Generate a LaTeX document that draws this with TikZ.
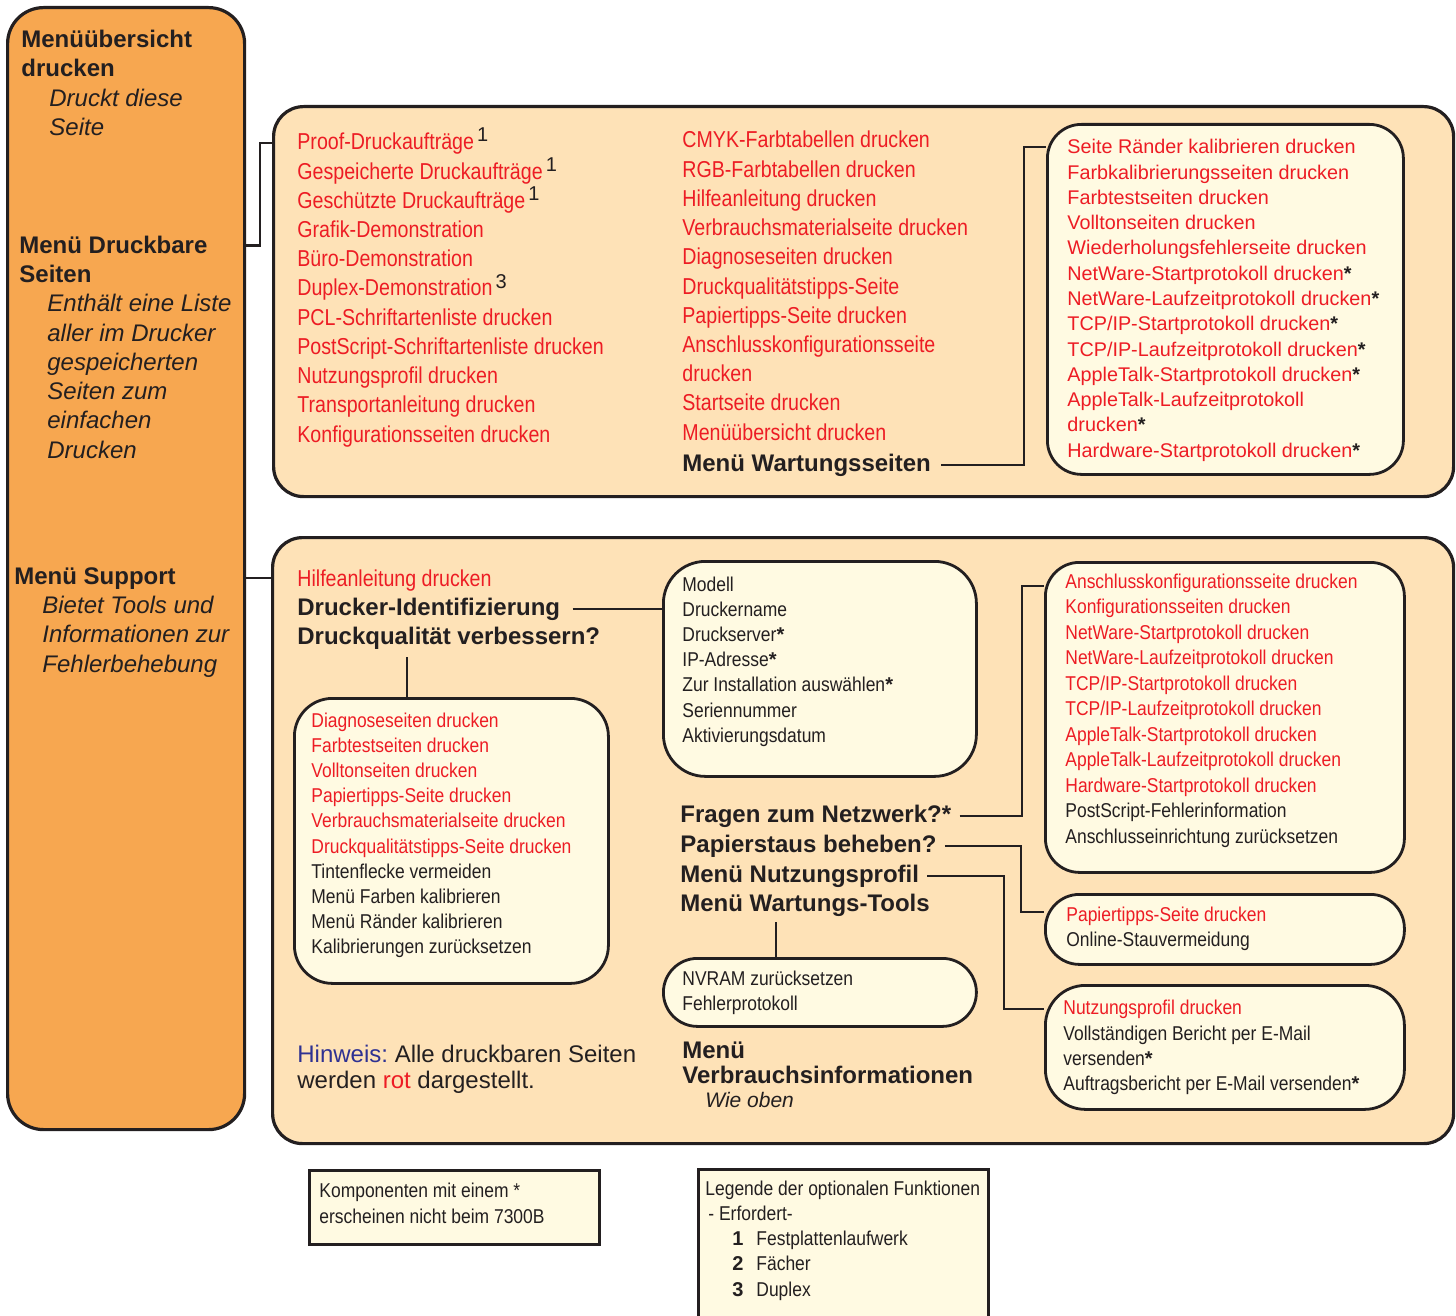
\documentclass[tikz,border=0pt]{standalone}
\usepackage{fontspec}
\setmainfont{Liberation Sans}
\newfontfamily\narrowfont[FakeStretch=0.853]{Liberation Sans}
\newfontfamily\boxfont[FakeStretch=0.873]{Liberation Sans}
\definecolor{Ink}{HTML}{231F20}
\definecolor{Druck}{HTML}{ED1C24}
\definecolor{Hint}{HTML}{2E3192}
\definecolor{Menu}{HTML}{F7A750}
\definecolor{Panel}{HTML}{FEE2B7}
\definecolor{Sub}{HTML}{FFFAE2}
\frenchspacing
\newcommand\fnmark[1]{\hspace{1.5pt}\raisebox{4pt}{\normalfont\fontsize{10}{12}\selectfont\color{Ink}#1}}
\newcommand\astk{{\normalfont\bfseries\color{Ink}*}}
\tikzset{
  boxbase/.style={draw=Ink,anchor=north west,inner sep=0pt},
  menubox/.style={boxbase,line width=1.6pt,fill=Menu,rounded corners=18pt},
  panel/.style={boxbase,line width=1.6pt,fill=Panel,rounded corners=15pt},
  subbox/.style={boxbase,line width=1.4pt,fill=Sub,rounded corners=17pt},
  keybox/.style={boxbase,line width=1.4pt,fill=Sub},
  link/.style={draw=Ink,line width=1.2pt},
  txt/.style={anchor=base west,inner sep=0pt,text=Ink},
  headtxt/.style={txt,font=\fontsize{12}{14}\selectfont\bfseries},
  notetxt/.style={txt,font=\fontsize{12}{14}\selectfont\itshape},
  redtxt/.style={txt,text=Druck,font=\narrowfont\fontsize{11.5}{14}\selectfont},
  boxtxt/.style={txt,font=\boxfont\fontsize{10}{12}\selectfont},
  widetxt/.style={txt,text=Druck,font=\fontsize{9.9}{12}\selectfont},
}
\begin{document}
\begin{tikzpicture}[x=0.5pt,y=-0.5pt]
  \useasboundingbox (0,0) rectangle (1456,1316);
  % frames
  \node[menubox,minimum width=118.5pt,minimum height=561pt] (menu) at (6,6) {};
  \node[panel,minimum width=590pt,minimum height=195pt] (prt) at (272,105) {};
  \node[panel,minimum width=590.5pt,minimum height=303pt] (sup) at (271,536) {};
  \node[subbox,minimum width=178pt,minimum height=175pt] (maint) at (1046,123) {};
  \node[subbox,rounded corners=21pt,minimum width=156.5pt,minimum height=107.5pt] (ident) at (662,560) {};
  \node[subbox,rounded corners=19pt,minimum width=157pt,minimum height=142.5pt] (qual) at (293,697) {};
  \node[subbox,minimum width=179.5pt,minimum height=155pt] (netz) at (1044,561) {};
  \node[subbox,minimum width=179.5pt,minimum height=35pt] (stau) at (1044,893) {};
  \node[subbox,minimum width=156.5pt,minimum height=34pt] (tools) at (662,957) {};
  \node[subbox,rounded corners=20pt,minimum width=179.5pt,minimum height=62pt] (nutz) at (1044,984) {};
  \node[keybox,minimum width=145pt,minimum height=37pt] (fnbox) at (308,1169) {};
  \node[keybox,minimum width=145pt,minimum height=80pt] (legbox) at (697,1168) {};

  % left menu column
  \node[headtxt] (mue1) at (21,48) {Menüübersicht};
  \node[headtxt] (mue2) at (21,77) {drucken};
  \node[notetxt] (mue3) at (49,107) {Druckt diese};
  \node[notetxt] (mue4) at (49,136) {Seite};
  \node[headtxt] (dbs) at (19,254) {Menü Druckbare};
  \node[headtxt] (dbs2) at (19,283) {Seiten};
  \foreach \t [count=\i] in {Enthält eine Liste,aller im Drucker,gespeicherten,Seiten zum,einfachen,Drucken}
    \node[notetxt] (dbsn\i) at (47,{312+(\i-1)*29.2}) {\t};
  \node[headtxt] (msp) at (14,584) {Menü Support};
  \foreach \t [count=\i] in {Bietet Tools und,Informationen zur,Fehlerbehebung}
    \node[notetxt] (mspn\i) at (42,{613+(\i-1)*29.5}) {\t};

  % printable pages
  \foreach \t [count=\i] in {Proof-Druckaufträge\fnmark{1},Gespeicherte Druckaufträge\fnmark{1},
      Geschützte Druckaufträge\fnmark{1},Grafik-Demonstration,Büro-Demonstration,
      Duplex-Demonstration\fnmark{3},PCL-Schriftartenliste drucken,PostScript-Schriftartenliste drucken,
      Nutzungsprofil drucken,Transportanleitung drucken,Konfigurationsseiten drucken}
    \node[redtxt] (pa\i) at (297,{150+(\i-1)*29.2}) {\t};
  \foreach \t [count=\i] in {CMYK-Farbtabellen drucken,RGB-Farbtabellen drucken,Hilfeanleitung drucken,
      Verbrauchsmaterialseite drucken,Diagnoseseiten drucken,Druckqualitätstipps-Seite,
      Papiertipps-Seite drucken,Anschlusskonfigurationsseite,drucken,Startseite drucken,
      Menüübersicht drucken}
    \node[redtxt] (pb\i) at (682,{148+(\i-1)*29.2}) {\t};
  \node[headtxt] (mw) at (682,471) {Menü Wartungsseiten};
  \foreach \t [count=\i] in {Seite Ränder kalibrieren drucken,Farbkalibrierungsseiten drucken,
      Farbtestseiten drucken,Volltonseiten drucken,Wiederholungsfehlerseite drucken,
      NetWare-Startprotokoll drucken\astk,NetWare-Laufzeitprotokoll drucken\astk,
      {TCP/IP-Startprotokoll drucken\astk},{TCP/IP-Laufzeitprotokoll drucken\astk},
      AppleTalk-Startprotokoll drucken\astk,AppleTalk-Laufzeitprotokoll,drucken\astk,
      Hardware-Startprotokoll drucken\astk}
    \node[widetxt] (mt\i) at (1067,{154+(\i-1)*25.25}) {\t};

  % support
  \node[redtxt] (hilfe) at (297,586) {Hilfeanleitung drucken};
  \node[headtxt] (did) at (297,615) {Drucker-Identifizierung};
  \node[headtxt] (dqv) at (297,644) {Druckqualität verbessern?};
  \foreach \t [count=\i] in {Modell,Druckername,Druckserver\astk,IP-Adresse\astk,
      Zur Installation auswählen\astk,Seriennummer,Aktivierungsdatum}
    \node[boxtxt] (id\i) at (682,{591+(\i-1)*25.2}) {\t};
  \foreach \t [count=\i] in {Diagnoseseiten drucken,Farbtestseiten drucken,Volltonseiten drucken,
      Papiertipps-Seite drucken,Verbrauchsmaterialseite drucken,Druckqualitätstipps-Seite drucken}
    \node[boxtxt,text=Druck] (dq\i) at (311,{727+(\i-1)*25.2}) {\t};
  \foreach \t [count=\i from 7] in {Tintenflecke vermeiden,Menü Farben kalibrieren,
      Menü Ränder kalibrieren,Kalibrierungen zurücksetzen}
    \node[boxtxt] (dq\i) at (311,{727+(\i-1)*25.2}) {\t};
  \foreach \t [count=\i] in {Anschlusskonfigurationsseite drucken,Konfigurationsseiten drucken,
      NetWare-Startprotokoll drucken,NetWare-Laufzeitprotokoll drucken,
      {TCP/IP-Startprotokoll drucken},{TCP/IP-Laufzeitprotokoll drucken},
      AppleTalk-Startprotokoll drucken,AppleTalk-Laufzeitprotokoll drucken,
      Hardware-Startprotokoll drucken}
    \node[boxtxt,text=Druck] (nw\i) at (1065,{588+(\i-1)*25.5}) {\t};
  \foreach \t [count=\i from 10] in {PostScript-Fehlerinformation,Anschlusseinrichtung zurücksetzen}
    \node[boxtxt] (nw\i) at (1065,{588+(\i-1)*25.5}) {\t};
  \node[boxtxt,text=Druck] (st1) at (1066,921) {Papiertipps-Seite drucken};
  \node[boxtxt] (st2) at (1066,946) {Online-Stauvermeidung};
  \node[boxtxt,text=Druck] (nu1) at (1063,1014) {Nutzungsprofil drucken};
  \node[boxtxt] (nu2) at (1063,1040) {Vollständigen Bericht per E-Mail};
  \node[boxtxt] (nu3) at (1063,1065) {versenden\astk};
  \node[boxtxt] (nu4) at (1063,1090) {Auftragsbericht per E-Mail versenden\astk};
  \node[boxtxt] (wt1) at (682,985) {NVRAM zurücksetzen};
  \node[boxtxt] (wt2) at (682,1010) {Fehlerprotokoll};
  \node[headtxt] (netq) at (680,822) {Fragen zum Netzwerk?*};
  \node[headtxt] (stauq) at (680,852) {Papierstaus beheben?};
  \node[headtxt] (nutzq) at (680,882) {Menü Nutzungsprofil};
  \node[headtxt] (toolq) at (680,911) {Menü Wartungs-Tools};
  \node[headtxt] (vb1) at (682,1058) {Menü};
  \node[headtxt] (vb2) at (682,1083) {Verbrauchsinformationen};
  \node[notetxt,font=\fontsize{10.5}{12}\selectfont\itshape] (vb3) at (705,1107) {Wie oben};
  \node[txt,font=\fontsize{12}{14}\selectfont] (hw1) at (297,1062) {\textcolor{Hint}{Hinweis:} Alle druckbaren Seiten};
  \node[txt,font=\fontsize{12}{14}\selectfont] (hw2) at (297,1088) {werden \textcolor{Druck}{rot} dargestellt.};

  % keys
  \node[boxtxt] (fn1) at (319,1197) {Komponenten mit einem *};
  \node[boxtxt] (fn2) at (319,1223) {erscheinen nicht beim 7300B};
  \node[boxtxt] (lg1) at (705,1195) {Legende der optionalen Funktionen};
  \node[boxtxt] (lg2) at (708,1220) {- Erfordert-};
  \foreach \n/\t [count=\i] in {1/Festplattenlaufwerk,2/Fächer,3/Duplex}{
    \node[boxtxt,font=\fontsize{10}{12}\selectfont\bfseries] (lgn\i) at (732,{1245+(\i-1)*25.5}) {\n};
    \node[boxtxt] (lgt\i) at (756,{1245+(\i-1)*25.5}) {\t};
  }

  % connectors
  \draw[link] (menu.east |- dbs.center) -- ++(14,0) |- (prt.west |- 0,143);
  \draw[link] (menu.east |- msp.center) -- (sup.west |- msp.center);
  \draw[link] ([xshift=5pt]mw.east) -| ([xshift=-11pt]maint.west |- 0,147) -- (maint.west |- 0,147);
  \draw[link] ([xshift=6pt]did.east) -- (did.east -| ident.west);
  \draw[link] ([xshift=55pt,yshift=-4pt]dqv.south west) -- ([xshift=55pt]dqv.south west |- qual.north);
  \draw[link] ([xshift=4pt]netq.east) -| ([xshift=-11pt]netz.west |- 0,586) -- (netz.west |- 0,586);
  \draw[link] ([xshift=4pt]stauq.east) -| ([xshift=-11.5pt]stau.west |- 0,912) -- (stau.west |- 0,912);
  \draw[link] ([xshift=4pt]nutzq.east) -| ([xshift=-20pt]nutz.west |- 0,1009) -- (nutz.west |- 0,1009);
  \draw[link] ([xshift=48pt,yshift=-3pt]toolq.south west) -- ([xshift=48pt]toolq.south west |- tools.north);
\end{tikzpicture}
\end{document}
